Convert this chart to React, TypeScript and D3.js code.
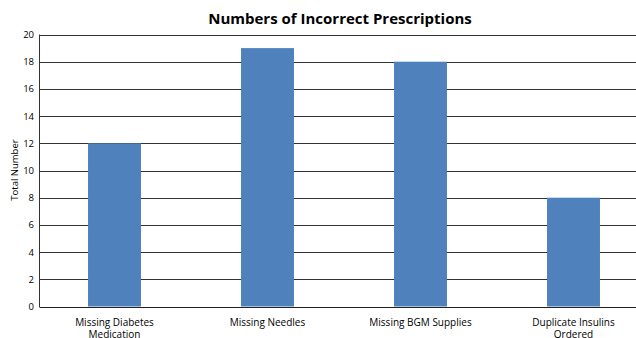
import React from "react";
import * as d3 from "d3";

const categories = ["Missing Diabetes Medication", "Missing Needles", "Missing BGM Supplies", "Duplicate Insulins Ordered"];
const labelLines = [["Missing Diabetes", "Medication"], ["Missing Needles"], ["Missing BGM Supplies"], ["Duplicate Insulins", "Ordered"]];
const values = [12, 19, 18, 8];
const yTicks = [0, 2, 4, 6, 8, 10, 12, 14, 16, 18, 20];

const W = 636, H = 338;
const FONT = "'Open Sans', 'Noto Sans', sans-serif";

export default function App() {
  const x = d3.scaleBand<string>().domain(categories).range([38, 650]).paddingInner(0.654).paddingOuter(0.327);
  const y = d3.scaleLinear().domain([0, 20]).range([306.5, 34.5]);
  return (
    <svg width={W} height={H} style={{ position: "absolute", left: 0, top: 0, background: "#fff" }} fontFamily={FONT}>
      <text x={340} y={24} textAnchor="middle" fontSize={15} fontWeight="bold" fill="#000">Numbers of Incorrect Prescriptions</text>
      {yTicks.map((t) => (
        <g key={t}>
          <line x1={39.5} x2={W} y1={Math.round(y(t)) + 0.5} y2={Math.round(y(t)) + 0.5} stroke={t === 0 ? "#222" : "#333"} strokeWidth={1} />
          <text x={34} y={y(t) + 3.5} textAnchor="end" fontSize={9.5} fill="#000">{t}</text>
        </g>
      ))}
      {categories.map((c, i) => (
        <rect key={c} x={x(c)} y={y(values[i])} width={x.bandwidth()} height={y(0) - y(values[i])} fill="#4f81bd" />
      ))}
      <line x1={39.5} x2={39.5} y1={34.5} y2={307} stroke="#333" />
      {categories.map((c, i) => (
        <text key={c} x={(x(c) as number) + x.bandwidth() / 2} y={326} textAnchor="middle" fontSize={10} fill="#000">
          {labelLines[i].map((l, j) => (
            <tspan key={j} x={(x(c) as number) + x.bandwidth() / 2} dy={j === 0 ? 0 : 11.5}>{l}</tspan>
          ))}
        </text>
      ))}
      <text transform={`translate(18,170) rotate(-90)`} textAnchor="middle" fontSize={9.5} fill="#000">Total Number</text>
    </svg>
  );
}
